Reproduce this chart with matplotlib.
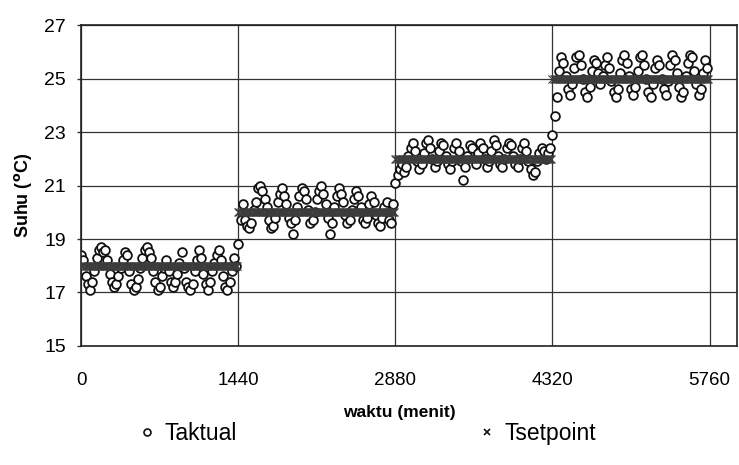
import numpy as np
import matplotlib.pyplot as plt

plt.rcParams['font.family'] = ['Liberation Sans', 'DejaVu Sans']

# suhu aktual per hari, sampel tiap 20 menit
day1 = [18.4, 18.2, 17.6, 17.3, 17.1, 17.4, 17.8, 18.3, 18.6, 18.7, 18.5, 18.6,
        18.2, 17.7, 17.4, 17.2, 17.3, 17.6, 17.9, 18.2, 18.5, 18.4, 17.8, 17.3,
        17.1, 17.2, 17.5, 17.9, 18.3, 18.6, 18.7, 18.5, 18.3, 17.8, 17.4, 17.1,
        17.2, 17.6, 17.9, 18.2, 17.8, 17.4, 17.2, 17.4, 17.7, 18.1, 18.5, 17.9,
        17.4, 17.2, 17.1, 17.3, 17.8, 18.2, 18.6, 18.3, 17.7, 17.3, 17.1, 17.4,
        17.8, 18.1, 18.4, 18.6, 18.2, 17.6, 17.2, 17.1, 17.4, 17.8, 18.3, 18.0]
day2 = [18.8, 19.7, 20.3, 19.7, 19.5, 19.4, 19.6, 20.1, 20.4, 20.9, 21.0, 20.8,
        20.5, 20.2, 19.7, 19.4, 19.5, 19.8, 20.4, 20.7, 20.9, 20.6, 20.3, 19.8,
        19.6, 19.2, 19.7, 20.2, 20.6, 20.9, 20.8, 20.5, 20.1, 19.6, 19.7, 20.0,
        20.5, 20.8, 21.0, 20.7, 20.3, 19.8, 19.2, 19.6, 20.2, 20.6, 20.9, 20.7,
        20.4, 19.9, 19.6, 19.7, 20.1, 20.5, 20.8, 20.6, 20.2, 19.7, 19.6, 19.8,
        20.3, 20.6, 20.4, 19.9, 19.6, 19.5, 19.8, 20.2, 20.4, 19.7, 19.6, 20.3]
day3 = [21.1, 21.4, 21.6, 21.8, 21.5, 21.7, 22.1, 22.4, 22.6, 22.3, 21.9, 21.6,
        21.8, 22.2, 22.6, 22.7, 22.4, 22.0, 21.7, 21.9, 22.3, 22.6, 22.5, 22.1,
        21.8, 21.6, 21.9, 22.4, 22.6, 22.3, 21.9, 21.2, 21.7, 22.1, 22.5, 22.4,
        22.0, 21.8, 22.2, 22.6, 22.4, 22.0, 21.7, 21.9, 22.3, 22.7, 22.5, 22.1,
        21.8, 21.7, 22.0, 22.4, 22.6, 22.5, 22.1, 21.8, 21.7, 22.0, 22.4, 22.6,
        22.3, 21.9, 21.6, 21.4, 21.5, 21.9, 22.2, 22.4, 22.3, 22.0, 22.2, 22.4]
day4 = [22.9, 23.6, 24.3, 25.3, 25.8, 25.6, 25.1, 24.6, 24.4, 24.8, 25.4, 25.8,
        25.9, 25.5, 25.0, 24.5, 24.3, 24.7, 25.3, 25.7, 25.6, 25.2, 24.8, 25.1,
        25.5, 25.8, 25.4, 24.9, 24.5, 24.3, 24.6, 25.2, 25.7, 25.9, 25.6, 25.1,
        24.6, 24.4, 24.7, 25.3, 25.8, 25.9, 25.5, 25.0, 24.5, 24.3, 24.8, 25.4,
        25.7, 25.5, 25.0, 24.6, 24.4, 24.9, 25.5, 25.9, 25.7, 25.2, 24.7, 24.3,
        24.5, 25.1, 25.6, 25.9, 25.8, 25.3, 24.8, 24.4, 24.6, 25.2, 25.7, 25.4]

setpoint_levels = [18, 20, 22, 25]
day_starts = [0, 1440, 2880, 4320]

xticks = [0, 1440, 2880, 4320, 5760]
yticks = [15, 17, 19, 21, 23, 25, 27]

# time axis for each day
t_act = []
y_act = []
for start, vals in zip(day_starts, [day1, day2, day3, day4]):
    t_act.append(start + np.arange(len(vals)) * 1440 / len(vals))
    y_act.append(np.array(vals))
t_act = np.concatenate(t_act)
y_act = np.concatenate(y_act)

t_sp = np.arange(0, 5760, 10)
y_sp = np.repeat(setpoint_levels, 144)

fig = plt.figure(figsize=(7.39, 4.65), dpi=100)
ax = fig.add_axes([0.110, 0.256, 0.887, 0.690])

ax.plot(t_sp, y_sp, linestyle='none', marker='x', markersize=5.8,
        markeredgewidth=0.8, color='#3c3c3c', zorder=3)
ax.plot(t_act, y_act, linestyle='none', marker='o', markersize=6.3,
        markerfacecolor='white', markeredgecolor='#111111', markeredgewidth=1.3,
        zorder=2)

ax.set_xlim(0, 6010)
ax.set_ylim(15, 27)
ax.set_xticks(xticks)
ax.set_yticks(yticks)
ax.tick_params(axis='x', labelsize=13.5, pad=19, length=0)
ax.tick_params(axis='y', labelsize=14, pad=8, length=3, width=1, color='#333333')

ax.grid(True, color='#333333', linewidth=0.9)
ax.set_axisbelow(True)
for s in ax.spines.values():
    s.set_color('#222222')
    s.set_linewidth(1.2)

ax.set_xlabel('waktu (menit)', fontsize=12.5, fontweight='bold')
ax.xaxis.set_label_coords(0.485, -0.185)
ax.set_ylabel('Suhu ($\\mathbf{^{o}}$C)', fontsize=13, fontweight='bold')
ax.yaxis.set_label_coords(-0.072, 0.47)

leg_act = plt.Line2D([], [], linestyle='none', marker='o', markersize=5,
                     markerfacecolor='white', markeredgecolor='#111111', markeredgewidth=1.2)
leg_sp = plt.Line2D([], [], linestyle='none', marker='x', markersize=5,
                    markeredgewidth=1.2, color='#111111')
for h, lab, xpos in [(leg_act, 'Taktual', 0.190), (leg_sp, 'Tsetpoint', 0.650)]:
    leg = fig.legend([h], [lab], loc='center left', bbox_to_anchor=(xpos, 0.068),
                     frameon=False, fontsize=16.5, handlelength=0.6, handletextpad=0.45,
                     borderpad=0, borderaxespad=0)

fig.savefig('out.png', dpi=100)
